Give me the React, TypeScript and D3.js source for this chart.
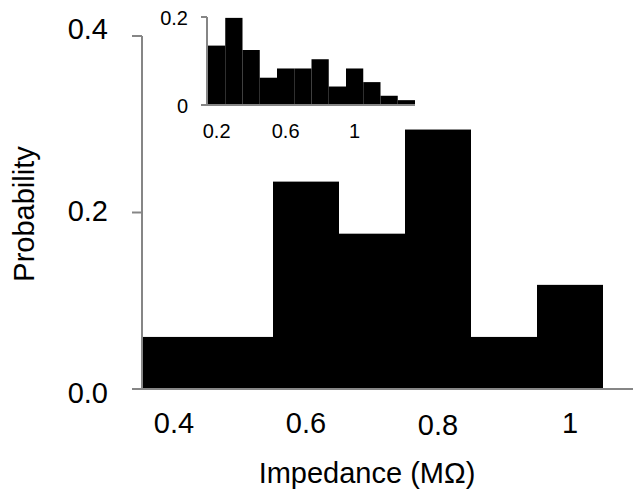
import React, { useEffect, useRef } from "react";
import * as d3 from "d3";

// main histogram: bin centres (MΩ) and probabilities
const mainBins = ["0.4", "0.5", "0.6", "0.7", "0.8", "0.9", "1"];
const mainValues = [0.059, 0.059, 0.235, 0.176, 0.294, 0.059, 0.118];
const mainTickLabels = ["0.4", "0.6", "0.8", "1"];
const mainYTicks = [0, 0.2, 0.4];

// inset histogram
const insetBins = ["0.2", "0.3", "0.4", "0.5", "0.6", "0.7", "0.8", "0.9", "1", "1.1", "1.2", "1.3"];
const insetValues = [0.135, 0.198, 0.125, 0.062, 0.083, 0.083, 0.104, 0.042, 0.083, 0.052, 0.021, 0.011];
const insetTickLabels = ["0.2", "0.6", "1"];
const insetYTicks = [0, 0.2];

const W = 633;
const H = 494;
const FONT = "'Liberation Sans', Arial, sans-serif";
const AXIS = "#868686";

const App = () => {
  const ref = useRef<SVGSVGElement>(null);

  useEffect(() => {
    const svg = d3.select(ref.current);
    svg.selectAll("*").remove();

    // main chart scales
    const x = d3.scaleBand().domain(mainBins).range([141, 603]).padding(0);
    const y = d3.scaleLinear().domain([0, 0.4]).range([389, 36]);
    // Excel places the value labels slightly apart from the ticks
    const yLab = d3.scaleLinear().domain([0, 0.4]).range([403, 39]);

    svg
      .append("g")
      .selectAll("rect")
      .data(mainValues)
      .enter()
      .append("rect")
      .attr("x", (d, i) => x(mainBins[i])!)
      .attr("width", x.bandwidth())
      .attr("y", (d) => y(d))
      .attr("height", (d) => y(0) - y(d))
      .attr("fill", "#000");

    // y axis
    svg
      .append("line")
      .attr("x1", 142).attr("x2", 142)
      .attr("y1", y(0.4)).attr("y2", y(0))
      .attr("stroke", AXIS).attr("stroke-width", 2);
    svg
      .append("g")
      .selectAll("line")
      .data(mainYTicks)
      .enter()
      .append("line")
      .attr("x1", 132).attr("x2", 142)
      .attr("y1", (d) => y(d)).attr("y2", (d) => y(d))
      .attr("stroke", AXIS).attr("stroke-width", 2);
    svg
      .append("g")
      .selectAll("text")
      .data(mainYTicks)
      .enter()
      .append("text")
      .attr("x", 108)
      .attr("y", (d) => yLab(d))
      .attr("text-anchor", "end")
      .attr("font-size", 29)
      .text((d) => d.toFixed(1));

    // x axis
    svg
      .append("line")
      .attr("x1", 132).attr("x2", W)
      .attr("y1", y(0)).attr("y2", y(0))
      .attr("stroke", AXIS).attr("stroke-width", 2);
    svg
      .append("g")
      .selectAll("text")
      .data(mainTickLabels)
      .enter()
      .append("text")
      .attr("x", (d) => x(d)! + x.bandwidth() / 2)
      .attr("y", (d) => (d === "0.8" ? 435 : 433))
      .attr("text-anchor", "middle")
      .attr("font-size", 29)
      .text((d) => d);

    svg
      .append("text")
      .attr("x", 367)
      .attr("y", 483)
      .attr("text-anchor", "middle")
      .attr("font-size", 29)
      .text("Impedance (MΩ)");

    svg
      .append("text")
      .attr("transform", "translate(34,214) rotate(-90)")
      .attr("text-anchor", "middle")
      .attr("font-size", 29)
      .text("Probability");

    // inset
    const xi = d3.scaleBand().domain(insetBins).range([208, 415]).padding(0);
    const yi = d3.scaleLinear().domain([0, 0.2]).range([105, 17]);

    svg
      .append("g")
      .selectAll("rect")
      .data(insetValues)
      .enter()
      .append("rect")
      .attr("x", (d, i) => xi(insetBins[i])!)
      .attr("width", xi.bandwidth())
      .attr("y", (d) => yi(d))
      .attr("height", (d) => yi(0) - yi(d))
      .attr("fill", "#000");

    svg
      .append("line")
      .attr("x1", 207).attr("x2", 207)
      .attr("y1", yi(0.2)).attr("y2", yi(0))
      .attr("stroke", AXIS).attr("stroke-width", 2);
    svg
      .append("g")
      .selectAll("line")
      .data(insetYTicks)
      .enter()
      .append("line")
      .attr("x1", 201).attr("x2", 207)
      .attr("y1", (d) => yi(d)).attr("y2", (d) => yi(d))
      .attr("stroke", AXIS).attr("stroke-width", 2);
    svg
      .append("g")
      .selectAll("text")
      .data(insetYTicks)
      .enter()
      .append("text")
      .attr("x", 188)
      .attr("y", (d) => yi(d) + 7.5)
      .attr("text-anchor", "end")
      .attr("font-size", 20)
      .text((d) => (d === 0 ? "0" : String(d)));

    svg
      .append("line")
      .attr("x1", 201).attr("x2", 415)
      .attr("y1", yi(0)).attr("y2", yi(0))
      .attr("stroke", AXIS).attr("stroke-width", 2);
    svg
      .append("g")
      .selectAll("text")
      .data(insetTickLabels)
      .enter()
      .append("text")
      .attr("x", (d) => xi(d)! + xi.bandwidth() / 2)
      .attr("y", 138)
      .attr("text-anchor", "middle")
      .attr("font-size", 20)
      .text((d) => d);
  }, []);

  return (
    <svg
      ref={ref}
      width={W}
      height={H}
      style={{ position: "absolute", left: 0, top: 0, background: "#fff", fontFamily: FONT }}
    />
  );
};

export default App;
